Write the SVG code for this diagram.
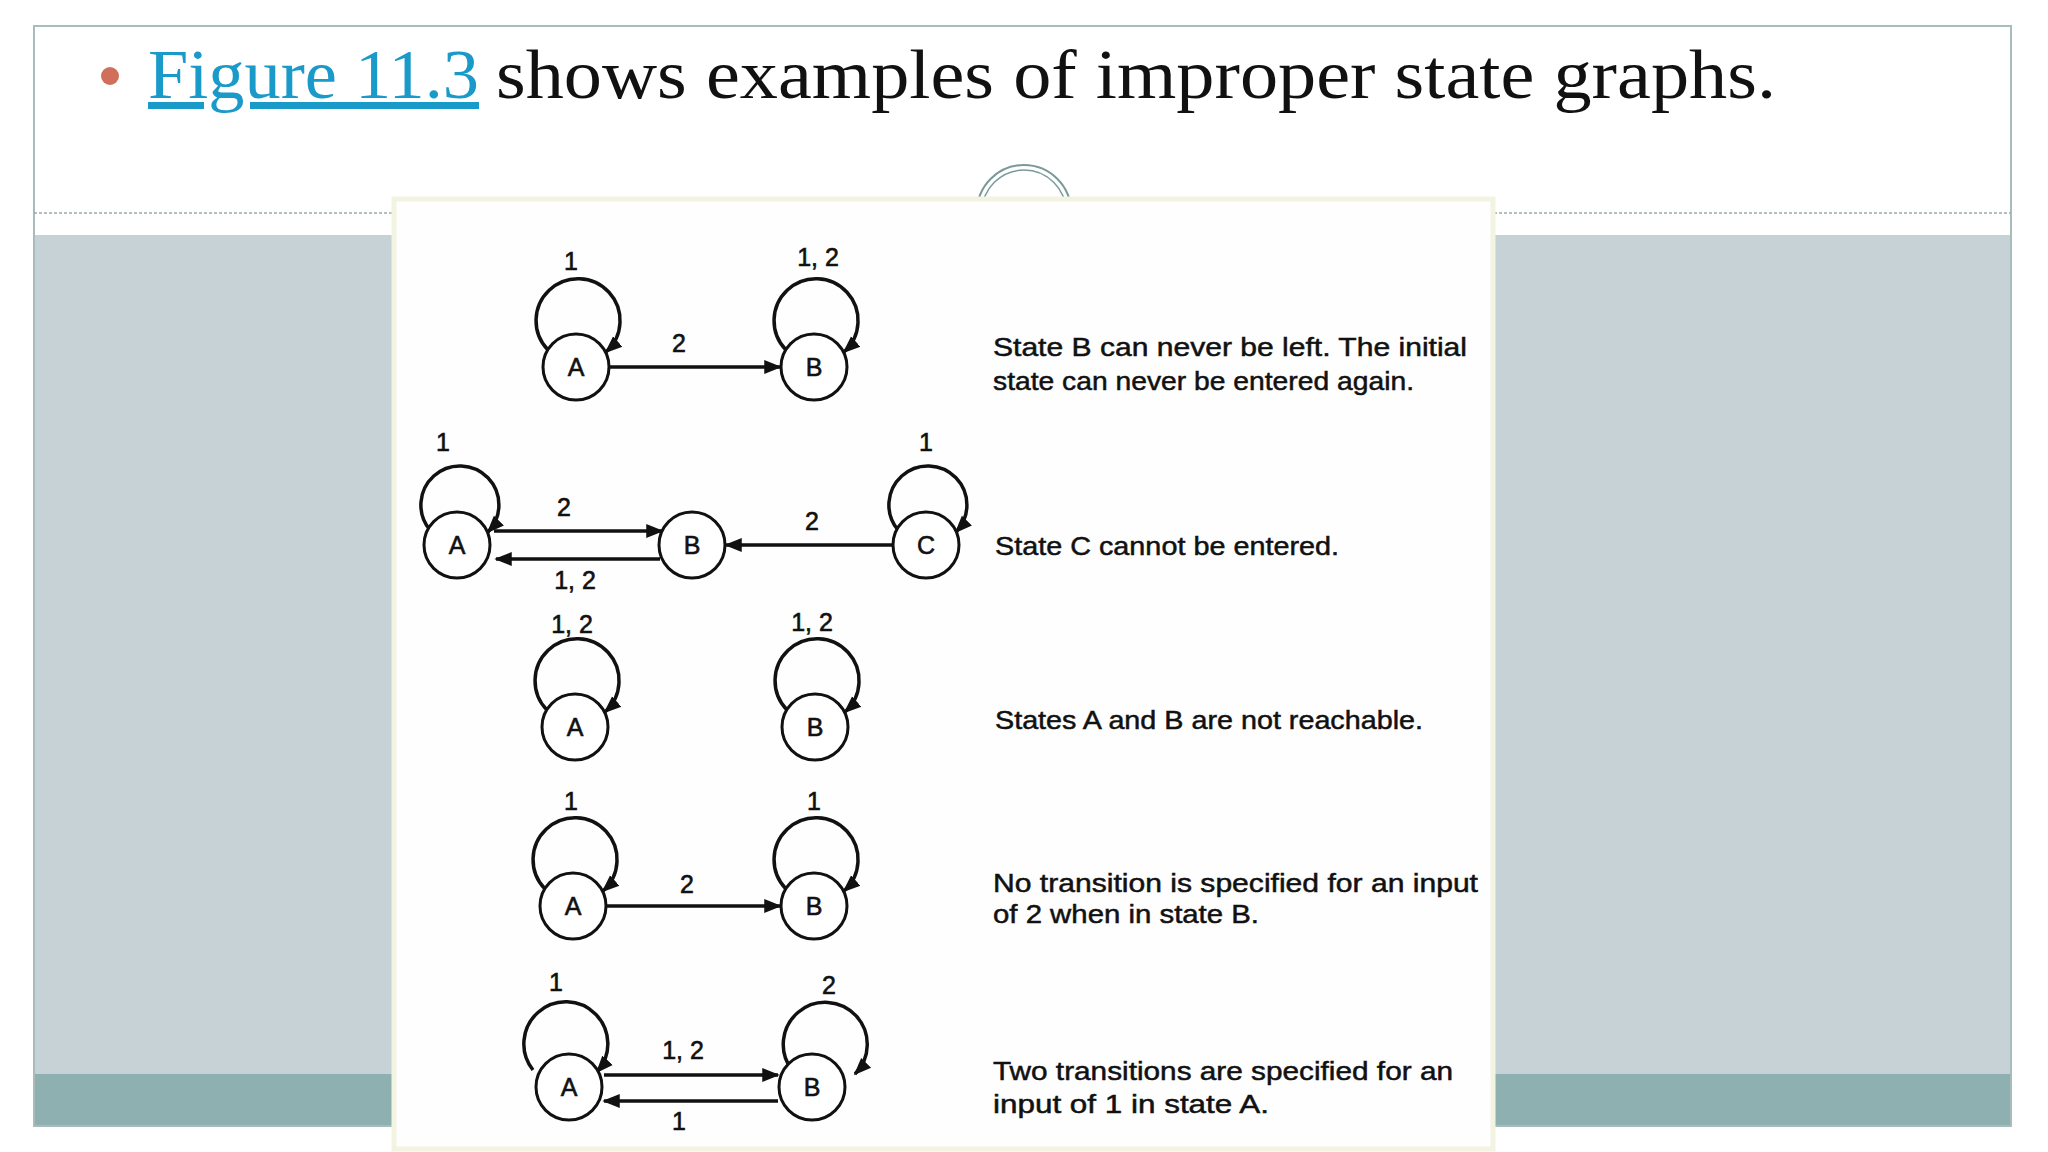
<svg xmlns="http://www.w3.org/2000/svg" width="2048" height="1152" viewBox="0 0 2048 1152">
<defs>
<marker id="ah" viewBox="0 0 10 10" refX="9" refY="5" markerWidth="5" markerHeight="5" orient="auto" markerUnits="strokeWidth"><path d="M0,1 L10,5 L0,9 z" fill="#111"/></marker>
<style>
.n circle{fill:#fff;stroke:#111;stroke-width:3}
.n text,.lb{font-family:"Liberation Sans",Arial,sans-serif;font-size:25px;fill:#111;stroke:#111;stroke-width:0.6;text-anchor:middle}
.e{fill:none;stroke:#111;stroke-width:3.5;marker-end:url(#ah)}
.d{font-family:"Liberation Sans",Arial,sans-serif;font-size:26px;fill:#111;stroke:#111;stroke-width:0.5}
</style>
</defs>
<rect width="2048" height="1152" fill="#fff"/>
<rect x="34" y="235" width="1977" height="840" fill="#c6d2d6"/>
<rect x="34" y="1074" width="1977" height="52" fill="#8fb0b0"/>
<rect x="34" y="26" width="1977" height="1100" fill="none" stroke="#a9bcbc" stroke-width="2"/>
<line x1="34" y1="213" x2="2011" y2="213" stroke="#9aa" stroke-width="1.5" stroke-dasharray="3,2"/>
<circle cx="110" cy="76" r="9" fill="#d0705a"/>
<text x="148" y="98" font-family="Liberation Serif,serif" font-size="70" fill="#1a9ac9" text-decoration="underline" textLength="331" lengthAdjust="spacingAndGlyphs">Figure 11.3</text>
<text x="496" y="98" font-family="Liberation Serif,serif" font-size="70" fill="#111" textLength="1280" lengthAdjust="spacingAndGlyphs">shows examples of improper state graphs.</text>
<path d="M977,212 A47,47 0 0 1 1071,212" fill="none" stroke="#7a9a9a" stroke-width="2"/>
<path d="M982,212 A42,42 0 0 1 1066,212" fill="none" stroke="#7a9a9a" stroke-width="1.5"/>
<rect x="394" y="199" width="1099" height="950" fill="#fefefe" stroke="#f3f3e2" stroke-width="5"/>
<g id="connectors">
<path class="e" d="M548,350 A42,42 0 1 1 606,352"/>
<path class="e" d="M786,350 A42,42 0 1 1 844,352"/>
<line class="e" x1="609" y1="367" x2="780" y2="367"/>
<path class="e" d="M430,530 A39,39 0 1 1 488,532"/>
<path class="e" d="M898,530 A39,39 0 1 1 956,532"/>
<line class="e" x1="494" y1="531" x2="662" y2="531"/>
<line class="e" x1="660" y1="559" x2="496" y2="559"/>
<line class="e" x1="893" y1="545" x2="726" y2="545"/>
<path class="e" d="M547,710 A42,42 0 1 1 605,712"/>
<path class="e" d="M787,710 A42,42 0 1 1 845,712"/>
<path class="e" d="M545,889 A42,42 0 1 1 603,891"/>
<path class="e" d="M786,889 A42,42 0 1 1 844,891"/>
<line class="e" x1="606" y1="906" x2="780" y2="906"/>
<path class="e" d="M533,1070 A42,42 0 1 1 597,1072"/>
<path class="e" d="M792,1070 A42,42 0 1 1 855,1074"/>
<line class="e" x1="604" y1="1075" x2="778" y2="1075"/>
<line class="e" x1="778" y1="1101" x2="604" y2="1101"/>
<text class="lb" x="571" y="270">1</text><text class="lb" x="818" y="266">1, 2</text><text class="lb" x="679" y="352">2</text>
<text class="lb" x="443" y="451">1</text><text class="lb" x="564" y="516">2</text><text class="lb" x="575" y="589">1, 2</text><text class="lb" x="812" y="530">2</text><text class="lb" x="926" y="451">1</text>
<text class="lb" x="572" y="633">1, 2</text><text class="lb" x="812" y="631">1, 2</text>
<text class="lb" x="571" y="810">1</text><text class="lb" x="814" y="810">1</text><text class="lb" x="687" y="893">2</text>
<text class="lb" x="556" y="991">1</text><text class="lb" x="829" y="994">2</text><text class="lb" x="683" y="1059">1, 2</text><text class="lb" x="679" y="1130">1</text>
</g>
<g id="r1A" class="n"><circle cx="576" cy="367" r="33"/><text x="576" y="376">A</text></g>
<g id="r1B" class="n"><circle cx="814" cy="367" r="33"/><text x="814" y="376">B</text></g>
<g id="r2A" class="n"><circle cx="457" cy="545" r="33"/><text x="457" y="554">A</text></g>
<g id="r2B" class="n"><circle cx="692" cy="545" r="33"/><text x="692" y="554">B</text></g>
<g id="r2C" class="n"><circle cx="926" cy="545" r="33"/><text x="926" y="554">C</text></g>
<g id="r3A" class="n"><circle cx="575" cy="727" r="33"/><text x="575" y="736">A</text></g>
<g id="r3B" class="n"><circle cx="815" cy="727" r="33"/><text x="815" y="736">B</text></g>
<g id="r4A" class="n"><circle cx="573" cy="906" r="33"/><text x="573" y="915">A</text></g>
<g id="r4B" class="n"><circle cx="814" cy="906" r="33"/><text x="814" y="915">B</text></g>
<g id="r5A" class="n"><circle cx="569" cy="1087" r="33"/><text x="569" y="1096">A</text></g>
<g id="r5B" class="n"><circle cx="812" cy="1087" r="33"/><text x="812" y="1096">B</text></g>
<g id="captions">
<text class="d" x="993" y="356" textLength="474" lengthAdjust="spacingAndGlyphs">State B can never be left.  The initial</text>
<text class="d" x="993" y="390" textLength="421" lengthAdjust="spacingAndGlyphs">state can never be entered again.</text>
<text class="d" x="995" y="555" textLength="344" lengthAdjust="spacingAndGlyphs">State C cannot be entered.</text>
<text class="d" x="995" y="729" textLength="428" lengthAdjust="spacingAndGlyphs">States A and B are not reachable.</text>
<text class="d" x="993" y="892" textLength="485" lengthAdjust="spacingAndGlyphs">No transition is specified for an input</text>
<text class="d" x="993" y="923" textLength="266" lengthAdjust="spacingAndGlyphs">of 2 when in state B.</text>
<text class="d" x="993" y="1080" textLength="460" lengthAdjust="spacingAndGlyphs">Two transitions are specified for an</text>
<text class="d" x="993" y="1113" textLength="276" lengthAdjust="spacingAndGlyphs">input of 1 in state A.</text>
</g>
</svg>
